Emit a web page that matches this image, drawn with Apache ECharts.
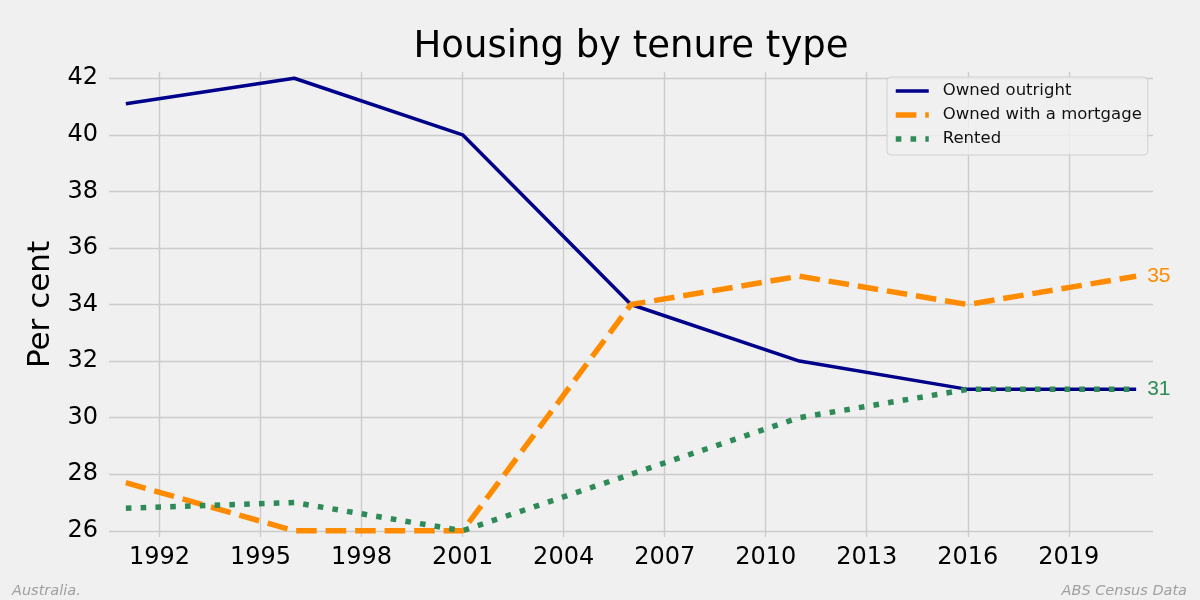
<!DOCTYPE html>
<html>
<head>
<meta charset="utf-8">
<script src="https://cdn.jsdelivr.net/npm/echarts@6/dist/echarts.min.js"></script>
<style>
html,body{margin:0;padding:0;background:#f0f0f0;}
#c{width:1200px;height:600px;}
</style>
</head>
<body>
<div id="c"></div>
<script>
const years = [1991, 1996, 2001, 2006, 2011, 2016, 2021];
const ownedOutright = [41.1, 42, 40, 34, 32, 31, 31];
const ownedMortgage = [27.7, 26, 26, 34, 35, 34, 35];
const rented = [26.8, 27, 26, 28, 30, 31, 31];
const xTicks = [1992, 1995, 1998, 2001, 2004, 2007, 2010, 2013, 2016, 2019];
const yTicks = [26, 28, 30, 32, 34, 36, 38, 40, 42];

const pair = (xs, ys) => xs.map((x, i) => [x, ys[i]]);
const chart = echarts.init(document.getElementById('c'), null, {renderer: 'canvas'});
const font = 'DejaVu Sans';
chart.setOption({
  backgroundColor: '#f0f0f0',
  animation: false,
  title: {
    text: 'Housing by tenure type',
    left: 626, top: 24, textAlign: 'center',
    textStyle: {fontFamily: font, fontSize: 37, fontWeight: 'normal', color: '#000'}
  },
  grid: {left: 109, right: 47, top: 72, bottom: 63},
  legend: {
    orient: 'vertical', left: 887, top: 77,
    itemWidth: 33, itemHeight: 14, itemGap: 4,
    padding: [4, 6, 6, 6],
    backgroundColor: 'rgba(240,240,240,0.8)',
    borderColor: '#d0d0d0', borderWidth: 1, borderRadius: 4,
    itemStyle: {opacity: 0},
    lineStyle: {width: 'inherit'},
    textStyle: {fontFamily: font, fontSize: 16.5, color: '#111', lineHeight: 20, padding: [0, 0, 0, 9]},
    data: ['Owned outright', 'Owned with a mortgage', 'Rented']
  },
  xAxis: {
    type: 'value', min: 1990.5, max: 2021.5,
    axisLine: {show: false},
    axisTick: {show: false, customValues: xTicks},
    axisLabel: {customValues: xTicks, fontFamily: font, fontSize: 24, color: '#000', margin: 9, formatter: v => String(v)},
    splitLine: {show: true, lineStyle: {color: '#cbcbcb', width: 1.4}}
  },
  yAxis: {
    type: 'value', min: 25.78, max: 42.22,
    name: 'Per cent', nameLocation: 'middle', nameGap: 38,
    nameTextStyle: {fontFamily: font, fontSize: 31, color: '#000'},
    axisLine: {show: false},
    axisTick: {show: false, customValues: yTicks},
    axisLabel: {customValues: yTicks, fontFamily: font, fontSize: 24, color: '#000', margin: 11},
    splitLine: {show: true, lineStyle: {color: '#cbcbcb', width: 1.4}}
  },
  series: [
    {
      name: 'Owned outright', type: 'line', data: pair(years, ownedOutright),
      symbol: 'none', color: '#00008B',
      lineStyle: {width: 3.5, color: '#00008B'}
    },
    {
      name: 'Owned with a mortgage', type: 'line', data: pair(years, ownedMortgage),
      symbol: 'none', color: '#FF8C00',
      lineStyle: {width: 5.5, color: '#FF8C00', type: [20.6, 8.9], cap: 'butt'},
      endLabel: {show: true, formatter: p => String(p.value[1]), color: '#FF8C00', fontFamily: 'Liberation Sans', fontSize: 21, distance: 11}
    },
    {
      name: 'Rented', type: 'line', data: pair(years, rented),
      symbol: 'none', color: '#2E8B57',
      lineStyle: {width: 5.5, color: '#2E8B57', type: [5.6, 9.2], cap: 'butt'},
      endLabel: {show: true, formatter: p => String(p.value[1]), color: '#2E8B57', fontFamily: 'Liberation Sans', fontSize: 21, distance: 11}
    }
  ],
  graphic: [
    {type: 'text', left: 12, top: 584, style: {text: 'Australia.', font: 'italic 14.5px "DejaVu Sans"', fill: '#a0a0a0'}},
    {type: 'text', right: 13, top: 584, style: {text: 'ABS Census Data', font: 'italic 14.5px "DejaVu Sans"', fill: '#a0a0a0'}}
  ]
});
</script>
</body>
</html>
